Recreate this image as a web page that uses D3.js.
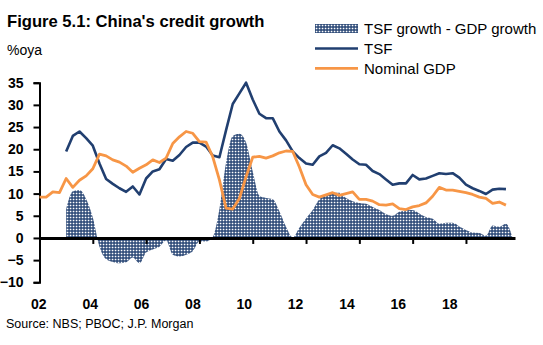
<!DOCTYPE html>
<html>
<head>
<meta charset="utf-8">
<script src="https://cdn.jsdelivr.net/npm/d3@7"></script>
<style>
  body { margin: 0; background: #fff; }
  svg { display: block; font-family: "Liberation Sans", Arial, sans-serif; }
  .axis text { font-size: 14px; font-weight: bold; fill: #000; }
  .axis path, .axis line { stroke: #000; }
</style>
</head>
<body>
<div id="chart"></div>
<script>
// quarterly categories, 2002Q1 .. 2019Q3
const quarters = d3.range(2002, 2019.75, 0.25);

// nominal GDP, %oya, from 2002Q1
const gdp = [
  9.2, 9.2, 10.4, 10.2,
  13.4, 11.4, 13.0, 14.0,
  15.6, 18.9, 18.5, 17.6,
  17.1, 16.2, 14.8, 15.7,
  16.5, 17.6, 17.0, 18.0,
  21.3, 22.8, 24.0, 23.6,
  21.7, 21.6, 18.3, 13.1,
  6.7, 6.5, 8.9, 13.8,
  18.2, 18.4, 18.0, 18.5,
  19.2, 19.6, 19.5, 16.0,
  12.0, 9.8, 9.2, 9.7,
  10.2, 9.6, 10.0, 10.4,
  8.7, 8.7, 8.3, 7.5,
  7.4, 7.7, 6.6, 6.4,
  7.0, 7.3, 7.9, 9.4,
  11.4, 10.8, 10.8, 10.5,
  10.2, 9.8, 9.2, 8.9,
  7.8, 8.1, 7.4
];

// total social financing, %oya, from 2003Q1
const tsfStart = 2003;
const tsf = [
  19.5, 23.0, 24.0, 22.5,
  20.8, 16.8, 13.3, 12.2,
  11.2, 10.4, 11.6, 9.8,
  13.4, 15.0, 15.5, 17.8,
  17.4, 18.7, 20.5, 21.5,
  21.5, 20.6, 18.6, 18.2,
  24.3, 30.2, 32.6, 35.0,
  31.2, 28.0, 27.0, 27.0,
  24.0, 22.0, 19.5, 18.0,
  16.8, 16.5, 18.4, 19.2,
  20.9, 20.2, 19.0, 17.7,
  16.6, 16.5, 15.1, 14.4,
  13.2, 12.0, 12.3, 12.3,
  14.2, 13.2, 13.4, 14.0,
  14.6, 14.4, 14.6, 13.6,
  12.0, 11.2, 10.6, 9.9,
  10.9, 11.1, 11.0
];

// TSF growth less GDP growth, from 2003Q1
const gapStart = 2003;
const gap = [
  6.5, 10.5, 10.8, 8.8,
  4.6, -2.0, -4.8, -5.4,
  -5.7, -5.5, -4.4, -5.7,
  -3.3, -2.6, -2.0, -0.6,
  -3.8, -4.2, -3.8, -3.0,
  -0.8, -0.8, 0.2, 6.5,
  17.0, 23.0, 23.5, 21.5,
  15.0, 9.5, 9.0, 8.7,
  6.0, 2.5, 0.1, 2.3,
  4.4, 6.3, 8.7, 9.6,
  10.1, 10.2, 9.0, 8.3,
  7.9, 7.7, 7.0, 6.3,
  5.4, 5.0, 5.9, 6.2,
  6.3, 5.5, 4.7, 4.3,
  3.2, 3.4, 3.4, 2.6,
  1.8, 1.2, 1.1, 0.5,
  2.8, 2.5, 3.2, 0
];

const yTicks = [-10, -5, 0, 5, 10, 15, 20, 25, 30, 35];
const xTicks = [2004, 2006, 2008, 2010, 2012, 2014, 2016, 2018];
const xLabels = [2002, 2004, 2006, 2008, 2010, 2012, 2014, 2016, 2018];

const legendItems = ["TSF growth - GDP growth", "TSF", "Nominal GDP"];

const navy = "#213f70";
const orange = "#f79646";

let svg = d3.select("#chart").append("svg")
  .attr("width", 543)
  .attr("height", 345);

svg.append("rect").attr("width", "100%").attr("height", "100%").attr("fill", "white");

// dotted fill used by the gap area
let pat = svg.append("defs").append("pattern")
  .attr("id", "dots")
  .attr("patternUnits", "userSpaceOnUse")
  .attr("width", 3).attr("height", 3);
pat.append("rect").attr("width", 3).attr("height", 3).attr("fill", navy);
pat.append("rect").attr("x", 0.7).attr("y", 0.7).attr("width", 1.7).attr("height", 1.6).attr("fill", "#fff");

let x = d3.scaleLinear().domain([2002, 2019.84]).range([39.5, 515]);
let y = d3.scaleLinear().domain([-10, 35]).range([282.3, 82.7]);
// year labels sit on their own, slightly tighter spacing
let xl = d3.scaleLinear().domain([2002, 2018]).range([38.3, 449.2]);

let gapPts = gap.map((v, i) => ({t: gapStart + i * 0.25, v: v}));
let tsfPts = tsf.map((v, i) => ({t: tsfStart + i * 0.25, v: v}));
let gdpPts = gdp.map((v, i) => ({t: quarters[i], v: v}));

svg.append("path")
  .datum(gapPts)
  .attr("fill", "url(#dots)")
  .attr("d", d3.area()
    .curve(d3.curveMonotoneX)
    .x(d => x(d.t))
    .y0(y(0))
    .y1(d => y(d.v)));

// y axis
svg.append("g")
  .attr("class", "axis axis--y")
  .attr("transform", "translate(39.5,0)")
  .call(d3.axisLeft(y).tickValues(yTicks).tickSize(6).tickPadding(10))
  .call(g => g.select(".domain").attr("stroke-width", 2))
  .call(g => g.selectAll(".tick line").attr("stroke-width", 2));

// zero line with tick marks
svg.append("g")
  .attr("class", "axis axis--x")
  .attr("transform", "translate(0," + y(0) + ")")
  .call(d3.axisBottom(x).tickValues(xTicks).tickSize(6).tickSizeOuter(0).tickFormat(""))
  .call(g => g.select(".domain").attr("stroke-width", 3))
  .call(g => g.selectAll(".tick line").attr("stroke-width", 2));

svg.append("g")
  .attr("class", "axis axis--xl")
  .attr("transform", "translate(0,299)")
  .call(d3.axisBottom(xl).tickValues(xLabels).tickSize(0).tickPadding(0)
    .tickFormat(d => d3.format("02d")(d % 100)))
  .call(g => g.select(".domain").remove());

let line = d3.line().x(d => x(d.t)).y(d => y(d.v));

svg.append("path")
  .datum(tsfPts)
  .attr("fill", "none")
  .attr("stroke", navy)
  .attr("stroke-width", 2.6)
  .attr("stroke-linejoin", "round")
  .attr("d", line);

svg.append("path")
  .datum(gdpPts)
  .attr("fill", "none")
  .attr("stroke", orange)
  .attr("stroke-width", 2.8)
  .attr("stroke-linejoin", "round")
  .attr("d", line);

// titles
svg.append("text")
  .attr("x", 7).attr("y", 27)
  .attr("font-size", 16.6).attr("font-weight", "bold")
  .text("Figure 5.1: China's credit growth");

svg.append("text")
  .attr("x", 7).attr("y", 55)
  .attr("font-size", 14)
  .text("%oya");

svg.append("text")
  .attr("x", 6).attr("y", 328)
  .attr("font-size", 12.5)
  .text("Source: NBS; PBOC; J.P. Morgan");

// legend
let legend = svg.append("g").attr("transform", "translate(315,0)");
legend.append("rect")
  .attr("x", 0).attr("y", 24).attr("width", 43).attr("height", 9)
  .attr("fill", "url(#dots)");
legend.append("line")
  .attr("x1", 0).attr("x2", 43).attr("y1", 48.5).attr("y2", 48.5)
  .attr("stroke", navy).attr("stroke-width", 2.6);
legend.append("line")
  .attr("x1", 0).attr("x2", 43).attr("y1", 68.3).attr("y2", 68.3)
  .attr("stroke", orange).attr("stroke-width", 2.8);
legend.selectAll(".legend-text")
  .data(legendItems)
  .enter().append("text")
    .attr("class", "legend-text")
    .attr("x", 49)
    .attr("y", (d, i) => 34.3 + i * 19.8)
    .attr("font-size", 15)
    .text(d => d);
</script>
</body>
</html>
